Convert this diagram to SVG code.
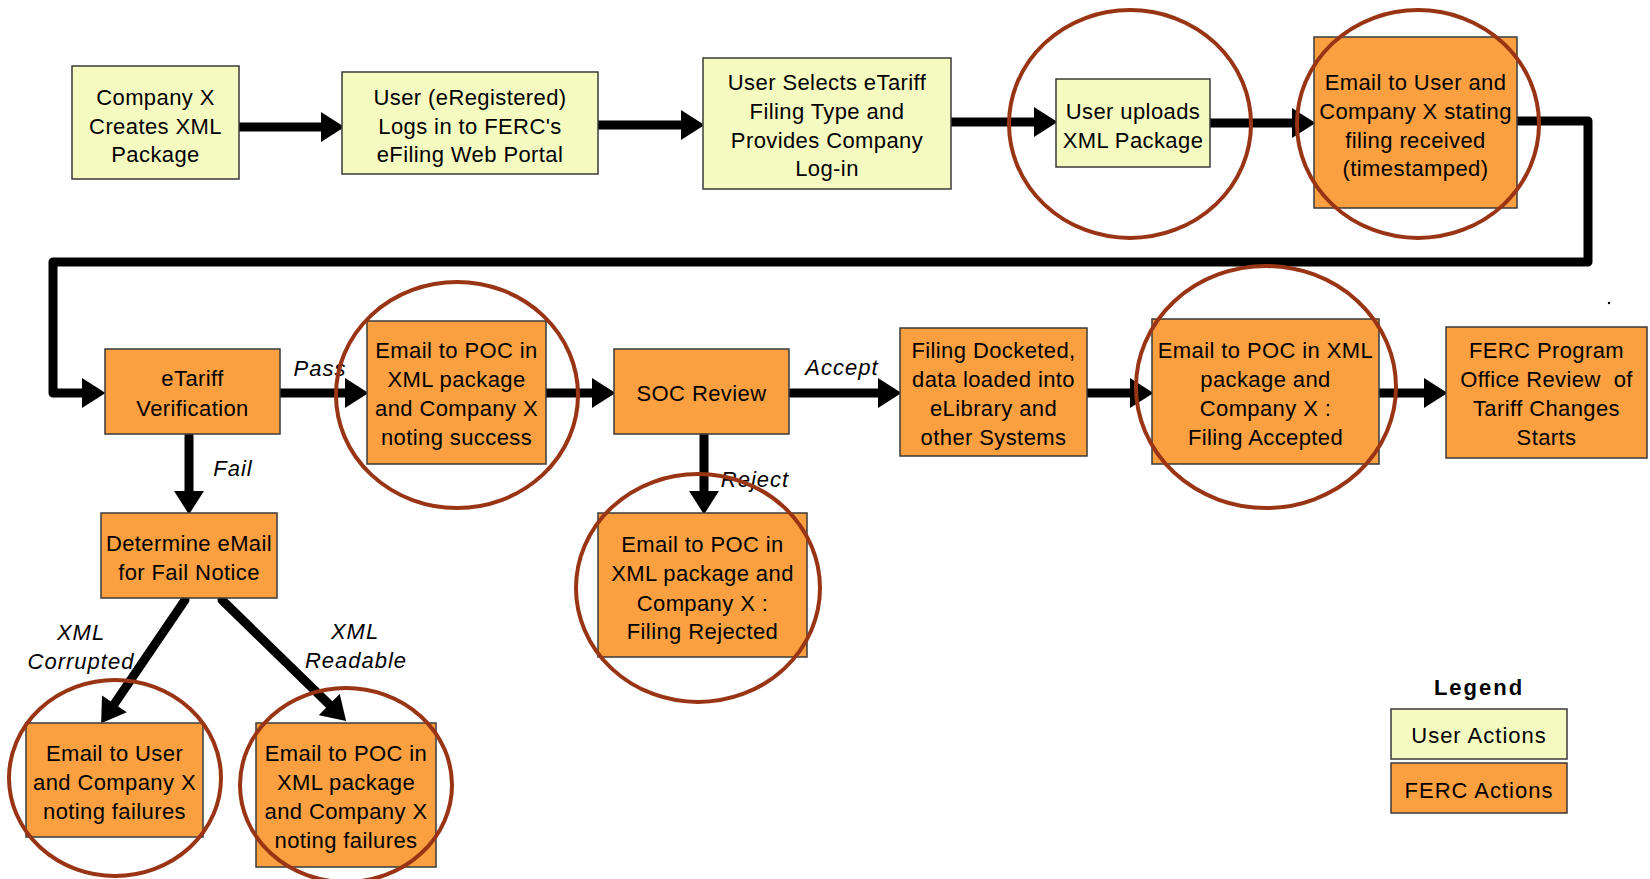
<svg xmlns="http://www.w3.org/2000/svg" width="1650" height="879" viewBox="0 0 1650 879">
<style>
.user{fill:#F5FAC0;stroke:#3a3a3a;stroke-width:1.5}
.ferc{fill:#FBA040;stroke:#3a3a3a;stroke-width:1.5}
.ring{fill:none;stroke:#993414;stroke-width:4}
.t{font-family:"Liberation Sans",Arial,sans-serif;font-size:22px;fill:#000;text-anchor:middle;letter-spacing:0.4px}
.lbl{font-family:"Liberation Sans",Arial,sans-serif;font-size:22px;font-style:italic;fill:#000;text-anchor:middle;letter-spacing:1px}
.leg{font-family:"Liberation Sans",Arial,sans-serif;font-size:22px;font-weight:bold;fill:#000;text-anchor:middle;letter-spacing:2px}
.c{fill:none;stroke:#000;stroke-width:9;stroke-linecap:round;stroke-linejoin:round}
</style>
<defs>
<marker id="ah" markerUnits="userSpaceOnUse" markerWidth="24" markerHeight="30" refX="1" refY="14" orient="auto" viewBox="0 0 22 28">
<path d="M0,0 L22,14 L0,28 z" fill="#000"/>
</marker>
</defs>
<rect width="1650" height="879" fill="#fff"/>

<g id="connectors">
<path class="c" d="M235,127 H322" marker-end="url(#ah)"/>
<path class="c" d="M598,125 H682" marker-end="url(#ah)"/>
<path class="c" d="M951,122 H1035" marker-end="url(#ah)"/>
<path class="c" d="M1210,123 H1293" marker-end="url(#ah)"/>
<path class="c" d="M1517,121 H1588 V262 H53 V393 H83" marker-end="url(#ah)"/>
<path class="c" d="M280,393 H346" marker-end="url(#ah)"/>
<path class="c" d="M546,393 H593" marker-end="url(#ah)"/>
<path class="c" d="M791,393 H879" marker-end="url(#ah)"/>
<path class="c" d="M1087,393 H1131" marker-end="url(#ah)"/>
<path class="c" d="M1379,393 H1425" marker-end="url(#ah)"/>
<path class="c" d="M189,436 V492" marker-end="url(#ah)"/>
<path class="c" d="M704,436 V492" marker-end="url(#ah)"/>
<path class="c" d="M185,600 L113.8,704.7" marker-end="url(#ah)"/>
<path class="c" d="M222,600 L330,705.3" marker-end="url(#ah)"/>
<text class="lbl" x="320" y="376">Pass</text>
<text class="lbl" x="842" y="375">Accept</text>
<text class="lbl" x="233" y="476">Fail</text>
<text class="lbl" x="755" y="487">Reject</text>
<text class="lbl" x="81" y="640">XML</text>
<text class="lbl" x="81" y="669">Corrupted</text>
<text class="lbl" x="355" y="639">XML</text>
<text class="lbl" x="356" y="668">Readable</text>
</g>

<g id="n1"><rect class="user" x="72" y="66" width="167" height="113"/>
<text class="t" x="155.5" y="105">Company X</text><text class="t" x="155.5" y="134">Creates XML</text><text class="t" x="155.5" y="162">Package</text></g>

<g id="n2"><rect class="user" x="342" y="72" width="256" height="102"/>
<text class="t" x="470" y="105">User (eRegistered)</text><text class="t" x="470" y="134">Logs in to FERC's</text><text class="t" x="470" y="162">eFiling Web Portal</text></g>

<g id="n3"><rect class="user" x="703" y="58" width="248" height="131"/>
<text class="t" x="827" y="90">User Selects eTariff</text><text class="t" x="827" y="119">Filing Type and</text><text class="t" x="827" y="148">Provides Company</text><text class="t" x="827" y="176">Log-in</text></g>

<g id="n4"><rect class="user" x="1056" y="79" width="154" height="88"/>
<text class="t" x="1133" y="119">User uploads</text><text class="t" x="1133" y="148">XML Package</text></g>

<g id="n5"><rect class="ferc" x="1314" y="37" width="203" height="171"/>
<text class="t" x="1415.5" y="90">Email to User and</text><text class="t" x="1415.5" y="119">Company X stating</text><text class="t" x="1415.5" y="148">filing received</text><text class="t" x="1415.5" y="176">(timestamped)</text></g>

<g id="n6"><rect class="ferc" x="105" y="349" width="175" height="85"/>
<text class="t" x="192.5" y="386">eTariff</text><text class="t" x="192.5" y="416">Verification</text></g>

<g id="n7"><rect class="ferc" x="367" y="321" width="179" height="143"/>
<text class="t" x="456.5" y="358">Email to POC in</text><text class="t" x="456.5" y="387">XML package</text><text class="t" x="456.5" y="416">and Company X</text><text class="t" x="456.5" y="445">noting success</text></g>

<g id="n8"><rect class="ferc" x="614" y="349" width="175" height="85"/>
<text class="t" x="701.5" y="401">SOC Review</text></g>

<g id="n9"><rect class="ferc" x="900" y="328" width="187" height="128"/>
<text class="t" x="993.5" y="358">Filing Docketed,</text><text class="t" x="993.5" y="387">data loaded into</text><text class="t" x="993.5" y="416">eLibrary and</text><text class="t" x="993.5" y="445">other Systems</text></g>

<g id="n10"><rect class="ferc" x="1152" y="319" width="227" height="145"/>
<text class="t" x="1265.5" y="358">Email to POC in XML</text><text class="t" x="1265.5" y="387">package and</text><text class="t" x="1265.5" y="416">Company X :</text><text class="t" x="1265.5" y="445">Filing Accepted</text></g>

<g id="n11"><rect class="ferc" x="1446" y="327" width="201" height="131"/>
<text class="t" x="1546.5" y="358">FERC Program</text><text class="t" x="1546.5" y="387">Office Review&#160; of</text><text class="t" x="1546.5" y="416">Tariff Changes</text><text class="t" x="1546.5" y="445">Starts</text></g>

<g id="n12"><rect class="ferc" x="101" y="513" width="176" height="85"/>
<text class="t" x="189" y="551">Determine eMail</text><text class="t" x="189" y="580">for Fail Notice</text></g>

<g id="n13"><rect class="ferc" x="598" y="513" width="209" height="144"/>
<text class="t" x="702.5" y="552">Email to POC in</text><text class="t" x="702.5" y="581">XML package and</text><text class="t" x="702.5" y="611">Company X :</text><text class="t" x="702.5" y="639">Filing Rejected</text></g>

<g id="n14"><rect class="ferc" x="26" y="723" width="177" height="114"/>
<text class="t" x="114.5" y="761">Email to User</text><text class="t" x="114.5" y="790">and Company X</text><text class="t" x="114.5" y="819">noting failures</text></g>

<g id="n15"><rect class="ferc" x="256" y="723" width="180" height="144"/>
<text class="t" x="346" y="761">Email to POC in</text><text class="t" x="346" y="790">XML package</text><text class="t" x="346" y="819">and Company X</text><text class="t" x="346" y="848">noting failures</text></g>

<g id="highlights">
<ellipse class="ring" cx="1130" cy="124" rx="121" ry="114"/>
<ellipse class="ring" cx="1418" cy="124" rx="121" ry="114"/>
<ellipse class="ring" cx="457" cy="395" rx="121" ry="113"/>
<ellipse class="ring" cx="1266" cy="387" rx="130" ry="121"/>
<ellipse class="ring" cx="698" cy="588" rx="122" ry="114"/>
<ellipse class="ring" cx="115" cy="778" rx="106" ry="98"/>
<ellipse class="ring" cx="346" cy="785" rx="106" ry="97"/>
</g>

<g id="legend">
<text class="leg" x="1479" y="695">Legend</text>
<rect class="user" x="1391" y="709" width="176" height="50"/>
<text class="t" x="1479" y="743" style="letter-spacing:1px">User Actions</text>
<rect class="ferc" x="1391" y="763" width="176" height="50"/>
<text class="t" x="1479" y="798" style="letter-spacing:1px">FERC Actions</text>
</g>

<circle cx="1609" cy="303" r="1.2" fill="#000"/>
</svg>
